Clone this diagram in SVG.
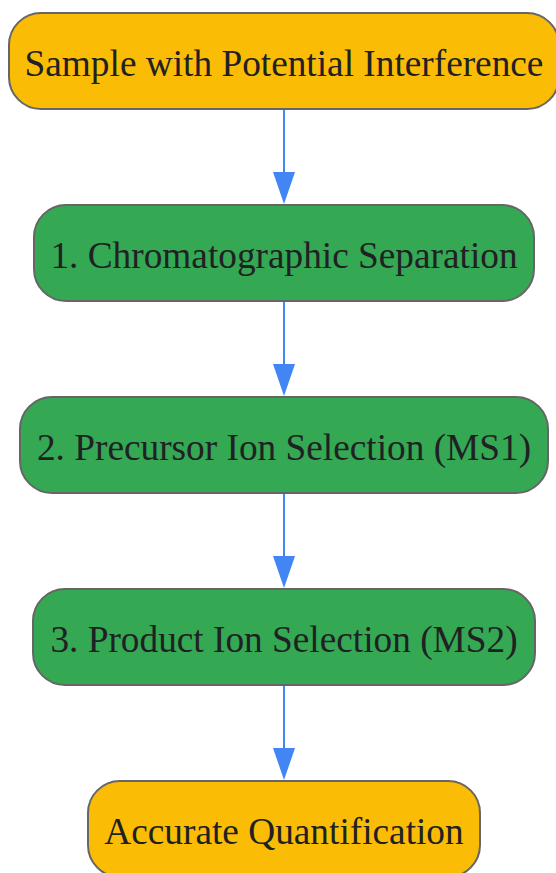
<svg xmlns="http://www.w3.org/2000/svg" width="556" height="873" viewBox="0 0 556 873">
<style>
.node rect{stroke:#666666;stroke-width:2}
.y rect{fill:#FBBC05}
.g rect{fill:#34A853}
text{font-family:"Liberation Serif","Times New Roman",serif;font-size:37.3px;fill:#202124;text-anchor:middle}
.edge{stroke:#4285F4;stroke-width:2;fill:none}
</style>
<defs>
<marker id="arrowV" viewBox="0 0 22 32" refX="11" refY="18" markerWidth="22" markerHeight="32" markerUnits="userSpaceOnUse">
<path d="M0,0 L22,0 L11,32 Z" fill="#4285F4"/>
</marker>
</defs>
<g id="connectors">
<path class="edge" d="M284,110 V190" marker-end="url(#arrowV)"/>
<path class="edge" d="M284,302 V382" marker-end="url(#arrowV)"/>
<path class="edge" d="M284,494 V574" marker-end="url(#arrowV)"/>
<path class="edge" d="M284,686 V766" marker-end="url(#arrowV)"/>
</g>
<g id="n0" class="node y"><rect x="9" y="13" width="550" height="96" rx="32"/><text x="284" y="75.5">Sample with Potential Interference</text></g>
<g id="n1" class="node g"><rect x="34" y="205" width="500" height="96" rx="32"/><text x="284" y="267.5">1. Chromatographic Separation</text></g>
<g id="n2" class="node g"><rect x="20" y="397" width="528" height="96" rx="32"/><text x="284" y="459.5">2. Precursor Ion Selection (MS1)</text></g>
<g id="n3" class="node g"><rect x="33" y="589" width="502" height="96" rx="32"/><text x="284" y="651.5">3. Product Ion Selection (MS2)</text></g>
<g id="n4" class="node y"><rect x="88" y="781" width="392" height="96" rx="32"/><text x="284" y="843.5">Accurate Quantification</text></g>
</svg>
